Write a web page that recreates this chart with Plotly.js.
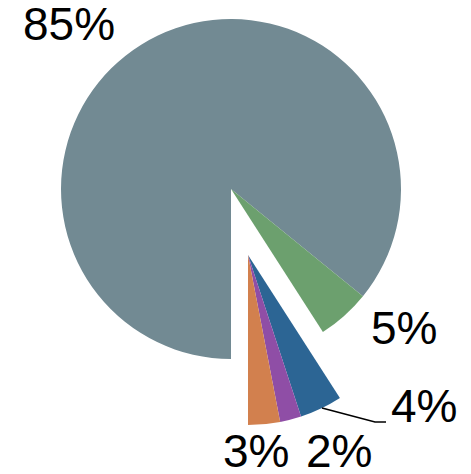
<!DOCTYPE html>
<html>
<head>
<meta charset="utf-8">
<script src="https://cdn.plot.ly/plotly-3.0.1.min.js"></script>
<style>html,body{margin:0;padding:0;background:#fff;}#chart{width:471px;height:474px;}</style>
</head>
<body>
<div id="chart"></div>
<script>
// Data
const categories = ['A', 'B', 'C', 'D', 'E'];
const values = [85, 5, 4, 2, 3];
const colors = ['#728a93', '#6ca06e', '#2c6594', '#8f4ea6', '#d2804e'];
// which slices belong to the exploded group
const exploded = [false, false, true, true, true];

const W = 471, H = 474;
const cx = 231, cy = 189, R = 170;       // main pie centre / radius (px)
const dx = 17, dy = 66;                  // offset of the exploded group (px)

// label placement (px, centre of the digits) for each slice, layout only
const labelPos = [[69, 24], [404, 328], [424, 406], [339, 451], [256, 451]];
// leader line for the 4% label (px)
const leader = [[322, 408], [375, 422], [386, 422]];

function domainFor(ox, oy) {
  return {
    x: [(cx + ox - R) / W, (cx + ox + R) / W],
    y: [(H - (cy + oy + R)) / H, (H - (cy + oy - R)) / H]
  };
}

const clear = 'rgba(0,0,0,0)';
const font = {family: 'Liberation Sans, Arial, sans-serif', size: 46, color: '#000'};

const base = {
  type: 'pie',
  labels: categories,
  values: values,
  sort: false,
  direction: 'clockwise',
  rotation: 180,
  textinfo: 'none',
  showlegend: false,
  automargin: false,
  hoverinfo: 'skip'
};

const traceMain = Object.assign({}, base, {
  domain: domainFor(0, 0),
  marker: {colors: colors.map((c, i) => exploded[i] ? clear : c), line: {width: 0}}
});

const traceGroup = Object.assign({}, base, {
  domain: domainFor(dx, dy),
  marker: {colors: colors.map((c, i) => exploded[i] ? c : clear), line: {width: 0}}
});

const annotations = values.map((v, i) => ({
  xref: 'paper', yref: 'paper',
  x: labelPos[i][0] / W, y: 1 - labelPos[i][1] / H,
  xanchor: 'center', yanchor: 'middle',
  text: v + '%', showarrow: false, font: font
}));

const path = leader.map((p, i) => (i ? 'L' : 'M') + (p[0] / W) + ',' + (1 - p[1] / H)).join(' ');

Plotly.newPlot('chart', [traceMain, traceGroup], {
  width: W, height: H,
  margin: {l: 0, r: 0, t: 0, b: 0},
  paper_bgcolor: '#fff',
  plot_bgcolor: '#fff',
  showlegend: false,
  annotations: annotations,
  shapes: [{type: 'path', xref: 'paper', yref: 'paper', path: path, line: {color: '#000', width: 1.5}}]
}, {displayModeBar: false, staticPlot: true});
</script>
</body>
</html>
